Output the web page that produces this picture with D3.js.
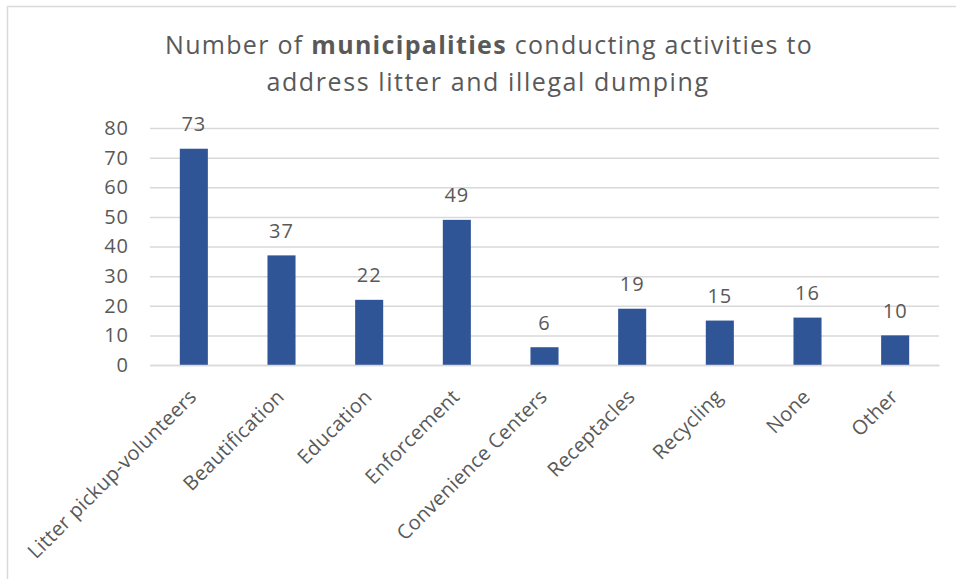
<!DOCTYPE html>
<html>
<head>
<meta charset="utf-8">
<script src="https://cdn.jsdelivr.net/npm/d3@7"></script>
<style>
  html, body { margin: 0; padding: 0; background: #fff; }
  svg { display: block; }
</style>
</head>
<body>
<svg id="chart" width="956" height="579"></svg>
<script>
// Activities and the number of municipalities conducting each
const categories = ["Litter pickup-volunteers", "Beautification", "Education", "Enforcement",
  "Convenience Centers", "Receptacles", "Recycling", "None", "Other"];
const counts = [73, 37, 22, 49, 6, 19, 15, 16, 10];
const yTicks = [0, 10, 20, 30, 40, 50, 60, 70, 80];

const W = 956, H = 579;
const margin = { left: 150, right: 17, top: 128, bottom: 214 };
const svg = d3.select("#chart");
const textColor = "#595959";
const gridColor = "#d9d9d9";
const barColor = "#2f5597";
const labelFont = "'Open Sans', 'Noto Sans', sans-serif";

// Outer frame (top and left edges)
svg.append("line").attr("x1", 7).attr("x2", W).attr("y1", 6.5).attr("y2", 6.5)
  .attr("stroke", gridColor).attr("stroke-width", 1.5);
svg.append("line").attr("x1", 7.5).attr("x2", 7.5).attr("y1", 6).attr("y2", H)
  .attr("stroke", gridColor).attr("stroke-width", 1.5);

const x = d3.scaleBand().domain(categories)
  .range([margin.left, W - margin.right]).paddingInner(0.68).paddingOuter(0.34);
const y = d3.scaleLinear().domain([0, 80]).range([H - margin.bottom, margin.top]);

// Title
const title = svg.append("text").attr("text-anchor", "middle")
  .attr("font-family", labelFont).attr("font-size", 25).attr("fill", textColor)
  .attr("letter-spacing", 1.3);
const l1 = title.append("tspan").attr("x", 489).attr("y", 54);
l1.append("tspan").text("Number of ");
l1.append("tspan").attr("font-weight", "bold").text("municipalities");
l1.append("tspan").text(" conducting activities to");
title.append("tspan").attr("x", 488).attr("y", 91).attr("letter-spacing", 1.6)
  .text("address litter and illegal dumping");

// Gridlines and y tick labels
const yAxis = d3.axisLeft(y).tickValues(yTicks).tickSize(-(W - margin.left - margin.right)).tickPadding(21);
const gy = svg.append("g").attr("transform", `translate(${margin.left},0)`).call(yAxis);
gy.select(".domain").remove();
gy.selectAll(".tick line").attr("stroke", gridColor).attr("stroke-width", 1.5);
gy.selectAll(".tick text").attr("fill", textColor).attr("font-family", labelFont)
  .attr("font-size", 20).attr("letter-spacing", 1);

// Bars
svg.append("g").selectAll("rect").data(counts).join("rect")
  .attr("x", (d, i) => x(categories[i]))
  .attr("width", x.bandwidth())
  .attr("y", d => y(d))
  .attr("height", d => y(0) - y(d))
  .attr("fill", barColor);

// Value labels above bars
svg.append("g").selectAll("text").data(counts).join("text")
  .attr("x", (d, i) => x(categories[i]) + x.bandwidth() / 2)
  .attr("y", d => y(d) - 17.5)
  .attr("text-anchor", "middle")
  .attr("font-family", labelFont).attr("font-size", 20).attr("fill", textColor)
  .attr("letter-spacing", 1)
  .text(d => d);

// Category axis
const xAxis = d3.axisBottom(x).tickSize(0).tickPadding(0);
const gx = svg.append("g").attr("transform", `translate(0,${y(0)})`).call(xAxis);
gx.select(".domain").attr("stroke", gridColor).attr("stroke-width", 1.5);
gx.selectAll(".tick text")
  .attr("fill", textColor).attr("font-family", labelFont).attr("font-size", 20)
  .attr("letter-spacing", 0.3)
  .attr("text-anchor", "end")
  .attr("dy", null).attr("y", 0)
  .attr("transform", "translate(4,33) rotate(-45)");
</script>
</body>
</html>
